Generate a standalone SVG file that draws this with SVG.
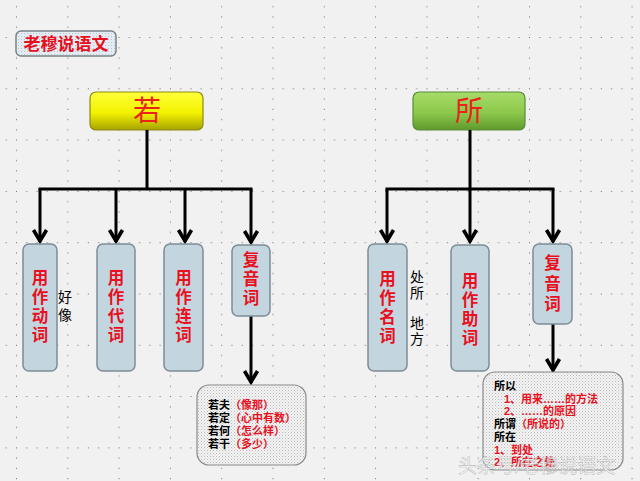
<svg xmlns="http://www.w3.org/2000/svg" width="640" height="481" viewBox="0 0 640 481">
<defs>
<pattern id="grid" x="16" y="37" width="51.3" height="51.3" patternUnits="userSpaceOnUse">
<g fill="#6a6a6a">
<rect x="0" y="0" width="1" height="1"/><rect x="10.26" y="0" width="1" height="1"/><rect x="20.52" y="0" width="1" height="1"/><rect x="30.78" y="0" width="1" height="1"/><rect x="41.04" y="0" width="1" height="1"/>
<rect x="0" y="10.26" width="1" height="1"/><rect x="0" y="20.52" width="1" height="1"/><rect x="0" y="30.78" width="1" height="1"/><rect x="0" y="41.04" width="1" height="1"/>
</g>
</pattern>
<pattern id="dots" x="0" y="0" width="3" height="3" patternUnits="userSpaceOnUse">
<rect width="3" height="3" fill="#f4f4f4"/>
<rect x="0" y="0" width="1" height="1" fill="#b8b8b8"/>
<rect x="1.5" y="1.5" width="1" height="1" fill="#c8c8c8"/>
</pattern>
<pattern id="tdots" x="0" y="0" width="3" height="3" patternUnits="userSpaceOnUse">
<rect width="3" height="3" fill="#e2ecf2"/>
<rect x="0" y="0" width="1" height="1" fill="#b9c6cf"/>
</pattern>
<linearGradient id="yel" x1="0" y1="0" x2="0" y2="1">
<stop offset="0" stop-color="#ffff3a"/><stop offset="0.55" stop-color="#f2f200"/><stop offset="1" stop-color="#a6a300"/>
</linearGradient>
<linearGradient id="grn" x1="0" y1="0" x2="0" y2="1">
<stop offset="0" stop-color="#a6dc68"/><stop offset="0.55" stop-color="#8cc84b"/><stop offset="1" stop-color="#5f9a2c"/>
</linearGradient>
<marker id="arr" markerUnits="userSpaceOnUse" markerWidth="20" markerHeight="20" refX="0" refY="0" viewBox="-16 -10 20 20" orient="auto" overflow="visible">
<path d="M-12,-6.5 L-1,0 L-12,6.5" fill="none" stroke="#000" stroke-width="3.6" stroke-linejoin="miter"/>
</marker>
<style>
.conn{fill:none;stroke:#000;stroke-width:3}
.child{fill:#c3d6df;stroke:#7d8c96;stroke-width:1.5}
.vt{font-family:"Liberation Sans","Noto Sans CJK SC","Noto Sans CJK JP",sans-serif;font-size:16.5px;font-weight:bold;fill:#e8101e;text-anchor:middle}
.bt{font-family:"Liberation Sans","Noto Sans CJK SC","Noto Sans CJK JP",sans-serif;font-size:14px;fill:#000;text-anchor:middle}
.nt{font-family:"Liberation Sans","Noto Sans CJK SC","Noto Sans CJK JP",sans-serif;font-size:11px;font-weight:bold;fill:#000}
.rd{fill:#e8101e}
.note{fill:url(#dots);stroke:#8a8a8a;stroke-width:1.2}
</style>
</defs>
<rect width="640" height="481" fill="#f1f1f1"/>
<rect width="640" height="481" fill="url(#grid)"/>

<g id="title">
<rect x="16" y="31" width="100" height="25" rx="5" fill="url(#tdots)" stroke="#7a8288" stroke-width="1.5"/>
<text x="66" y="49.5" font-family="Noto Sans CJK SC,sans-serif" font-size="17" font-weight="bold" fill="#e8101e" text-anchor="middle">老穆说语文</text>
</g>

<g id="ruo">
<rect x="90" y="92" width="113" height="38" rx="6" fill="url(#yel)" stroke="#8d8a10" stroke-width="1.2"/>
<text x="147" y="121" font-family="Noto Sans CJK SC,sans-serif" font-size="28" fill="#e8231a" text-anchor="middle">若</text>
</g>
<g id="suo">
<rect x="413" y="92" width="112" height="38" rx="6" fill="url(#grn)" stroke="#5b8a3a" stroke-width="1.2"/>
<text x="469" y="121" font-family="Noto Sans CJK SC,sans-serif" font-size="28" fill="#e8231a" text-anchor="middle">所</text>
</g>

<g id="connectors">
<path class="conn" d="M147,130 V189 M38.5,189 H252.5"/>
<path class="conn" d="M40,189 V242" marker-end="url(#arr)"/>
<path class="conn" d="M116,189 V242" marker-end="url(#arr)"/>
<path class="conn" d="M185,189 V242" marker-end="url(#arr)"/>
<path class="conn" d="M251,189 V243" marker-end="url(#arr)"/>
<path class="conn" d="M251,316 V383" marker-end="url(#arr)"/>
<path class="conn" d="M470,130 V189 M385.5,189 H554.5"/>
<path class="conn" d="M387,189 V242" marker-end="url(#arr)"/>
<path class="conn" d="M470,189 V242" marker-end="url(#arr)"/>
<path class="conn" d="M553,189 V242" marker-end="url(#arr)"/>
<path class="conn" d="M553,324 V371" marker-end="url(#arr)"/>
</g>

<g id="dongci">
<rect class="child" x="23" y="244" width="34" height="127" rx="6"/>
<text class="vt" x="40" y="284">用</text><text class="vt" x="40" y="303">作</text><text class="vt" x="40" y="322">动</text><text class="vt" x="40" y="341">词</text>
<text class="bt" x="65" y="302">好</text><text class="bt" x="65" y="320">像</text>
</g>
<g id="daici">
<rect class="child" x="97" y="244" width="38" height="127" rx="6"/>
<text class="vt" x="116" y="284">用</text><text class="vt" x="116" y="303">作</text><text class="vt" x="116" y="322">代</text><text class="vt" x="116" y="341">词</text>
</g>
<g id="lianci">
<rect class="child" x="164" y="244" width="39" height="127" rx="6"/>
<text class="vt" x="183.5" y="284">用</text><text class="vt" x="183.5" y="303">作</text><text class="vt" x="183.5" y="322">连</text><text class="vt" x="183.5" y="341">词</text>
</g>
<g id="fuyinci1">
<rect class="child" x="232" y="245" width="38" height="71" rx="6"/>
<text class="vt" x="251" y="266">复</text><text class="vt" x="251" y="285">音</text><text class="vt" x="251" y="304">词</text>
</g>
<g id="note1">
<rect class="note" x="197" y="385" width="109" height="80" rx="12"/>
<text class="nt" x="208" y="409">若夫<tspan class="rd">（像那）</tspan></text>
<text class="nt" x="208" y="422">若定<tspan class="rd">（心中有数）</tspan></text>
<text class="nt" x="208" y="435">若何<tspan class="rd">（怎么样）</tspan></text>
<text class="nt" x="208" y="448">若干<tspan class="rd">（多少）</tspan></text>
</g>

<g id="mingci">
<rect class="child" x="368" y="244" width="39" height="127" rx="6"/>
<text class="vt" x="387.5" y="285">用</text><text class="vt" x="387.5" y="304">作</text><text class="vt" x="387.5" y="323">名</text><text class="vt" x="387.5" y="342">词</text>
<text class="bt" x="417" y="282">处</text><text class="bt" x="417" y="298">所</text><text class="bt" x="417" y="328">地</text><text class="bt" x="417" y="344">方</text>
</g>
<g id="zhuci">
<rect class="child" x="451" y="245" width="38" height="126" rx="6"/>
<text class="vt" x="470" y="287">用</text><text class="vt" x="470" y="306">作</text><text class="vt" x="470" y="325">助</text><text class="vt" x="470" y="344">词</text>
</g>
<g id="fuyinci2">
<rect class="child" x="533" y="244" width="39" height="80" rx="6"/>
<text class="vt" x="552.5" y="269">复</text><text class="vt" x="552.5" y="290">音</text><text class="vt" x="552.5" y="310">词</text>
</g>
<g id="note2">
<rect class="note" x="483" y="372" width="140" height="98" rx="12"/>
<text class="nt" x="494" y="390">所以</text>
<text class="nt rd" x="504" y="402.5">1、用来……的方法</text>
<text class="nt rd" x="504" y="415">2、……的原因</text>
<text class="nt" x="494" y="428">所谓<tspan class="rd">（所说的）</tspan></text>
<text class="nt" x="494" y="441">所在</text>
<text class="nt rd" x="494" y="453.5">1、到处</text>
<text class="nt rd" x="494" y="466">2、所在之处</text>
</g>

<text x="458" y="473" font-family="Liberation Sans,Noto Sans CJK SC,sans-serif" font-size="19" fill="#ffffff" fill-opacity="0.75" stroke="#9a9a9a" stroke-opacity="0.6" stroke-width="0.6">头条号/老穆说语文</text>
</svg>
